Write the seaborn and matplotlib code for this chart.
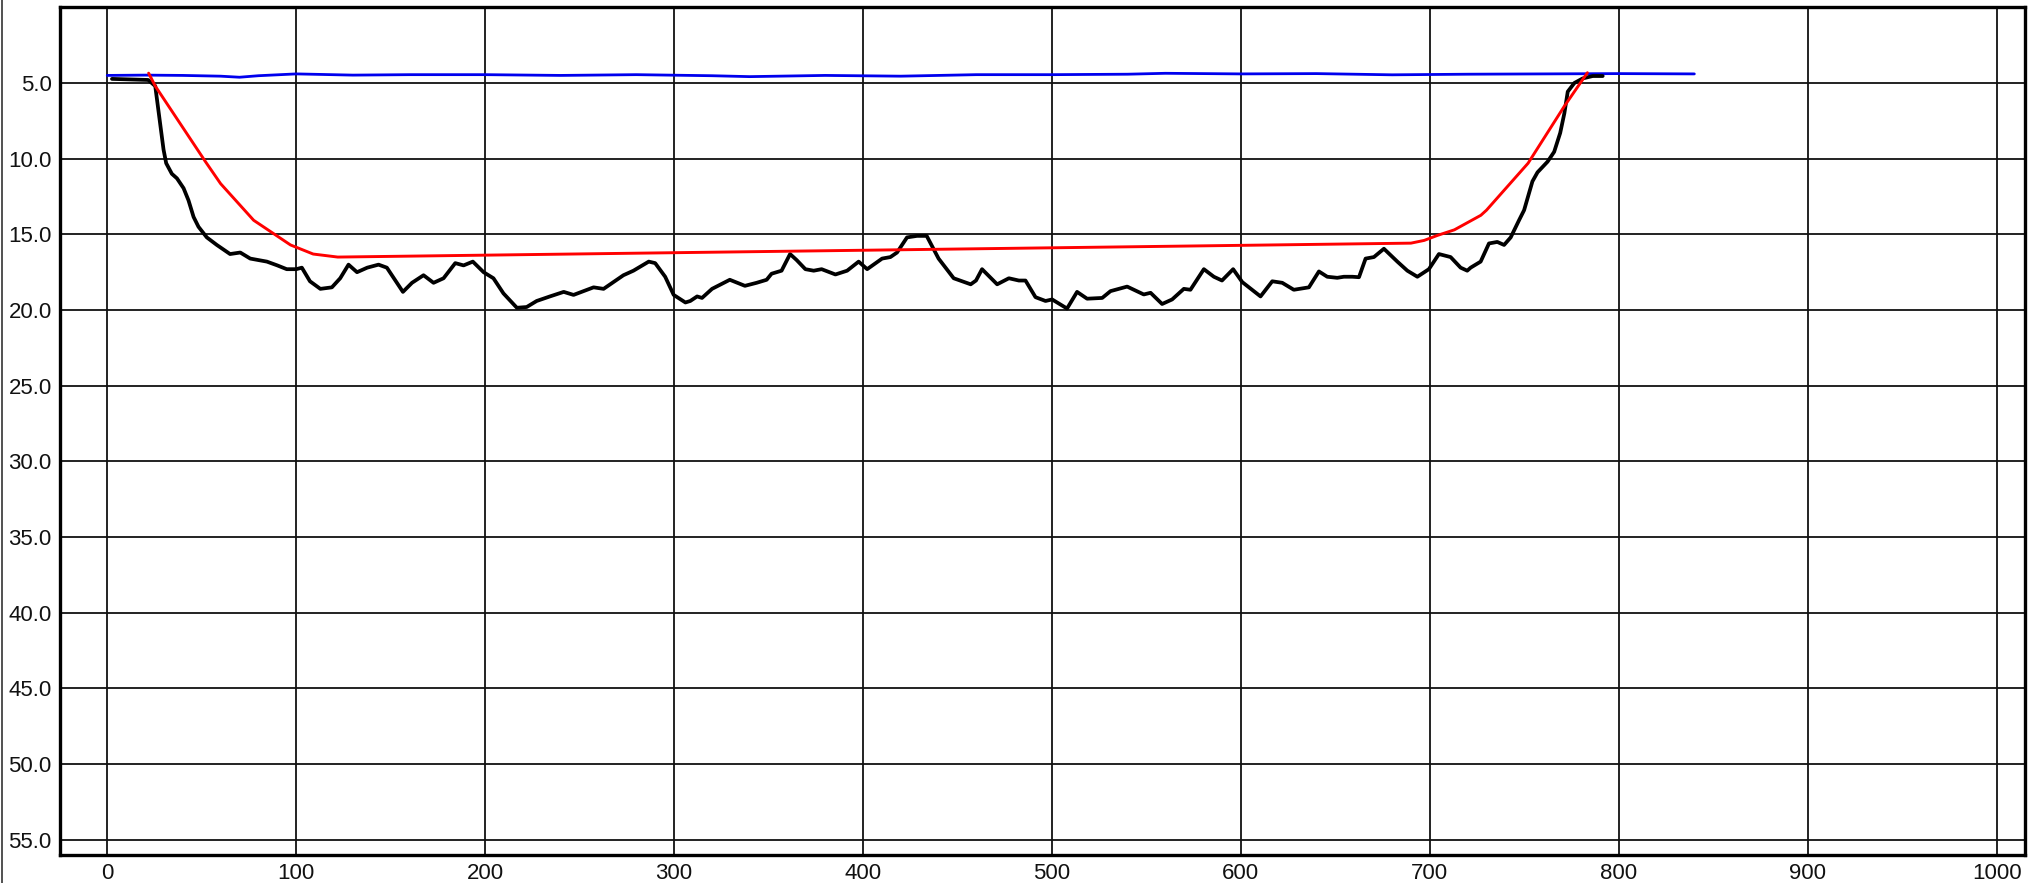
import matplotlib
matplotlib.use("Agg")
import matplotlib.pyplot as plt
from matplotlib.lines import Line2D
import seaborn as sns
import numpy as np

# ---- data ----
ground_x = [2.5, 21.7, 25.4, 29.8, 31.2, 34.2, 36.9, 40.4, 43, 45.7, 48.3, 52.7, 58, 65, 70.4, 75.7, 84.5, 90, 95, 100,
            103, 107.3, 112.8, 118.9, 123.3, 127.7, 132.2, 137.6, 143.6, 148, 152.5, 156.5, 161.3, 167.4, 172.7, 178,
            184.2, 188.6, 193.5, 199.2, 204.4, 209.7, 216.8, 222, 227.3, 234.3, 241.6, 246.8, 257.4, 262.7, 273.2,
            278.5, 286.6, 290, 295.3, 299.8, 306, 308.6, 312.2, 314.8, 320.1, 329.5, 337.5, 343.7, 349, 351.6, 356.9,
            361.4, 364.9, 369.5, 373.9, 378.1, 385.4, 391.6, 397.7, 402.2, 410.1, 414.5, 418, 423.3, 428.6, 433.7,
            440, 448, 457, 459.8, 463, 471, 477.2, 482.5, 486, 491.3, 496.6, 500.1, 508, 513.3, 518.6, 526.6, 531,
            539.8, 548.6, 552.2, 558.3, 563.6, 569.8, 573.3, 580.4, 585.7, 590, 595.9, 600.7, 610.4, 616.6, 621.9,
            628, 636, 641.3, 645.7, 651, 654.5, 659, 662.5, 666, 670.4, 675.7, 682.8, 688.1, 693.4, 699.5, 704.8,
            711, 716.3, 719.8, 721.6, 726.9, 731.3, 735.7, 739.3, 742.8, 747.2, 749.9, 754.3, 757, 762.3, 765.8,
            769, 771.2, 773, 776.5, 780.9, 786.2, 791.5]
ground_y = [4.73, 4.8, 5.2, 9.4, 10.3, 11.0, 11.3, 11.95, 12.75, 13.85, 14.5, 15.2, 15.7, 16.3, 16.2, 16.6, 16.8, 17.05,
            17.3, 17.3, 17.2, 18.1, 18.6, 18.5, 17.9, 17.0, 17.5, 17.2, 17.0, 17.2, 18.05, 18.8, 18.2, 17.7, 18.2,
            17.9, 16.9, 17.05, 16.8, 17.5, 17.9, 18.9, 19.85, 19.8, 19.4, 19.1, 18.8, 19.0, 18.5, 18.6, 17.7, 17.4,
            16.8, 16.9, 17.8, 19.0, 19.5, 19.4, 19.1, 19.2, 18.6, 18.0, 18.4, 18.2, 18.0, 17.6, 17.4, 16.3, 16.7,
            17.3, 17.4, 17.3, 17.65, 17.4, 16.8, 17.3, 16.6, 16.5, 16.2, 15.2, 15.1, 15.1, 16.6, 17.9, 18.3, 18.05,
            17.3, 18.3, 17.9, 18.05, 18.05, 19.15, 19.4, 19.3, 19.9, 18.8, 19.25, 19.2, 18.75, 18.45, 18.97, 18.86,
            19.6, 19.3, 18.6, 18.66, 17.3, 17.8, 18.05, 17.3, 18.15, 19.1, 18.1, 18.2, 18.66, 18.5, 17.45, 17.8,
            17.87, 17.8, 17.8, 17.83, 16.6, 16.5, 15.95, 16.8, 17.4, 17.8, 17.3, 16.3, 16.5, 17.2, 17.4, 17.2, 16.8,
            15.6, 15.5, 15.7, 15.2, 14.07, 13.4, 11.5, 10.9, 10.2, 9.55, 8.3, 7.0, 5.57, 5.0, 4.7, 4.54, 4.54]

design_x = [21.9, 25.4, 52, 60, 77.5, 97, 109, 122, 690, 697, 704, 713, 727, 730, 752, 771, 783.4]
design_y = [4.35, 5.2, 10.2, 11.65, 14.07, 15.7, 16.3, 16.5, 15.58, 15.4, 15.07, 14.7, 13.74, 13.4, 10.3, 6.57, 4.32]

water_x = [0, 20, 40, 60, 70, 80, 100, 130, 160, 200, 240, 280, 320, 340, 380, 420, 460, 500, 540, 560, 600, 640,
           680, 720, 760, 800, 840]
water_y = [4.5, 4.48, 4.5, 4.55, 4.62, 4.52, 4.4, 4.48, 4.45, 4.45, 4.5, 4.45, 4.52, 4.58, 4.5, 4.55, 4.45, 4.45,
           4.42, 4.36, 4.4, 4.38, 4.46, 4.42, 4.4, 4.38, 4.4]

x_ticks = [0, 100, 200, 300, 400, 500, 600, 700, 800, 900, 1000]
y_ticks = [5, 10, 15, 20, 25, 30, 35, 40, 45, 50, 55]

# ---- plot ----
sns.set_theme(style="white")
plt.rcParams['font.family'] = ['Liberation Sans', 'DejaVu Sans']

fig = plt.figure(figsize=(20.43, 8.83), dpi=100)
ax = fig.add_axes([60 / 2043, 1 - 855 / 883, (2025 - 60) / 2043, (855 - 7.3) / 883])

kw = dict(sort=False, estimator=None, solid_joinstyle="round", solid_capstyle="round")
sns.lineplot(x=water_x, y=water_y, ax=ax, color="#0000ee", lw=2.0, **kw)
sns.lineplot(x=ground_x, y=ground_y, ax=ax, color="black", lw=2.7, **kw)
sns.lineplot(x=design_x, y=design_y, ax=ax, color="#ff0000", lw=2.1, **kw)

ax.set_xlim(-25, 1015)
ax.set_ylim(56, 0)
ax.set_xticks(x_ticks)
ax.set_yticks(y_ticks)
ax.set_xticklabels([str(v) for v in x_ticks])
ax.set_yticklabels([f"{v:.1f}" for v in y_ticks])
ax.grid(True, color="#111111", lw=1.3)
ax.set_axisbelow(True)
ax.tick_params(axis="both", length=0, labelsize=16, colors="#111111", pad=6)
for s in ax.spines.values():
    s.set_color("black")
    s.set_linewidth(2.4)
    s.set_visible(True)
ax.set_xlabel("")
ax.set_ylabel("")

fig.add_artist(Line2D([1.5 / 2043, 1.5 / 2043], [0, 1], transform=fig.transFigure, color="#333333", lw=1.2))

fig.savefig("out.png", dpi=100, facecolor="white")
